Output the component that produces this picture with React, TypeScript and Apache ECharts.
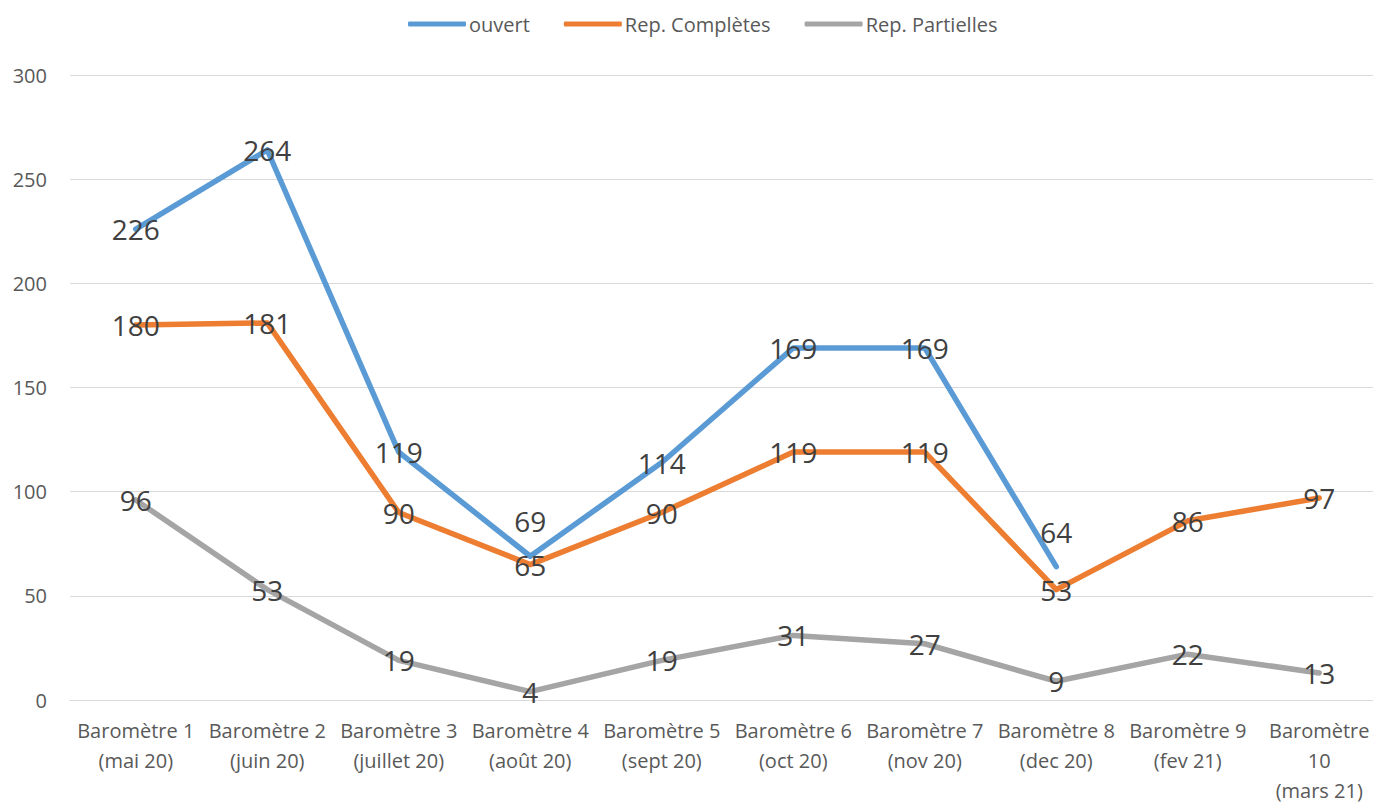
import React, { useEffect, useRef } from "react";
import * as echarts from "echarts";

const categories = [
  "Baromètre 1\n(mai 20)",
  "Baromètre 2\n(juin 20)",
  "Baromètre 3\n(juillet 20)",
  "Baromètre 4\n(août 20)",
  "Baromètre 5\n(sept 20)",
  "Baromètre 6\n(oct 20)",
  "Baromètre 7\n(nov 20)",
  "Baromètre 8\n(dec 20)",
  "Baromètre 9\n(fev 21)",
  "Baromètre\n10\n(mars 21)",
];
const ouvert = [226, 264, 119, 69, 114, 169, 169, 64, null, null];
const repCompletes = [180, 181, 90, 65, 90, 119, 119, 53, 86, 97];
const repPartielles = [96, 53, 19, 4, 19, 31, 27, 9, 22, 13];
const yTicks = [0, 50, 100, 150, 200, 250, 300];

const FONT = "'Open Sans', 'Noto Sans', sans-serif";

export default function App() {
  const ref = useRef<HTMLDivElement>(null);
  useEffect(() => {
    if (!ref.current) return;
    const chart = echarts.init(ref.current, undefined, { renderer: "svg" });
    const labelBase = {
      show: true,
      position: "inside",
      fontSize: 28,
      color: "#404040",
      fontFamily: FONT,
    };
    const raised = new Set([3, 7]);
    const mk = (name: string, arr: (number | null)[], color: string, aboveIdx?: Set<number>) => ({
      name,
      type: "line",
      data: arr.map((v, i) =>
        aboveIdx && aboveIdx.has(i)
          ? { value: v, label: { show: true, position: "top", distance: 20 } }
          : v
      ),
      symbol: "circle",
      symbolSize: 2,
      showSymbol: true,
      lineStyle: { color, width: 5.5, cap: "round", join: "round" },
      itemStyle: { color },
      label: labelBase,
      connectNulls: false,
    });
    chart.setOption({
      animation: false,
      backgroundColor: "#ffffff",
      textStyle: { fontFamily: FONT },
      legend: {
        top: 9,
        left: 403,
        itemWidth: 58,
        itemHeight: 5,
        itemGap: 34,
        icon: "roundRect",
        textStyle: { fontSize: 20, color: "#595959", fontFamily: FONT, padding: [0, 0, 0, -2] },
        data: ["ouvert", "Rep. Complètes", "Rep. Partielles"],
      },
      grid: { left: 70, right: 5, top: 75, height: 630, containLabel: false },
      xAxis: {
        type: "category",
        data: categories,
        boundaryGap: true,
        axisLine: { show: true, lineStyle: { color: "#D9D9D9", width: 1 } },
        axisTick: { show: false },
        axisLabel: {
          interval: 0,
          margin: 15,
          fontSize: 20,
          lineHeight: 30,
          color: "#595959",
          fontFamily: FONT,
        },
      },
      yAxis: {
        type: "value",
        min: yTicks[0],
        max: yTicks[yTicks.length - 1],
        interval: 50,
        axisLine: { show: false },
        axisTick: { show: false },
        splitLine: { lineStyle: { color: "#D9D9D9", width: 1 } },
        axisLabel: { fontSize: 20, color: "#595959", margin: 23, fontFamily: FONT },
      },
      series: [
        mk("ouvert", ouvert, "#5B9BD5", raised),
        mk("Rep. Complètes", repCompletes, "#ED7D31"),
        mk("Rep. Partielles", repPartielles, "#A5A5A5"),
      ],
    });
    return () => chart.dispose();
  }, []);
  return (
    <div style={{ position: "absolute", left: 0, top: 0, width: 1373, height: 805, overflow: "hidden", background: "#fff" }}>
      <div ref={ref} style={{ width: 1390, height: 805 }} />
    </div>
  );
}
